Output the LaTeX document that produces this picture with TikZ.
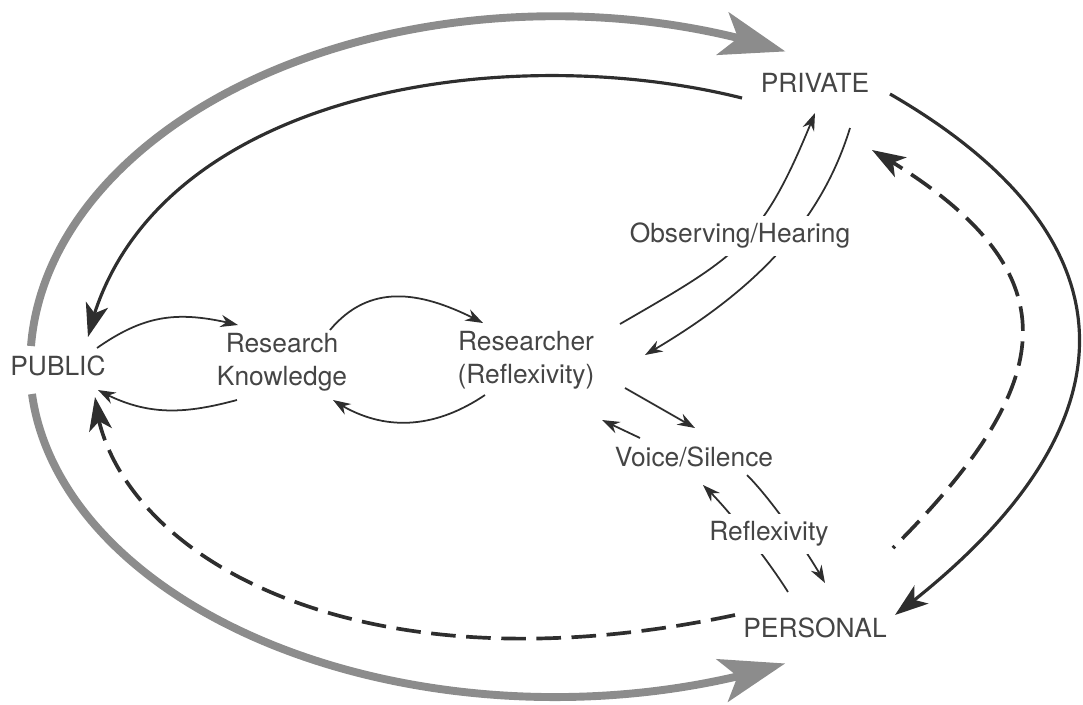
\documentclass[tikz,border=0pt]{standalone}
\usepackage{fontspec}
\setmainfont{TeX Gyre Heros}
\usetikzlibrary{arrows.meta, bending, calc}

\definecolor{ink}{HTML}{2E2E2E}
\definecolor{wordgrey}{HTML}{454545}
\definecolor{bandgrey}{HTML}{8C8C8C}

\tikzstyle{place} = [font=\fontsize{15pt}{19pt}\selectfont, text=wordgrey, inner sep=0pt]
\tikzstyle{topic} = [place, align=center]
\tikzstyle{gloss} = [place, fill=white, inner sep=4pt]
\tikzstyle{bigarrow} = [line width=4.5pt, draw=bandgrey, -{Stealth[length=37pt, width=25pt, inset=9pt]}]
\tikzstyle{arrow} = [line width=1.8pt, draw=ink, -{Stealth[length=19pt, width=13pt, inset=5pt]}]
\tikzstyle{dasharrow} = [arrow, line width=2.1pt, dash pattern=on 14pt off 6pt]
\tikzstyle{thinarrow} = [line width=1pt, draw=ink, -{Stealth[length=10pt, width=7pt]}]

\begin{document}
\begin{tikzpicture}[x=0.02cm, y=0.02cm]
    \useasboundingbox (0,0) rectangle (1083,-704);

    \node (private) [place] at (815,-83) {PRIVATE};
    \node (public) [place] at (58,-366) {PUBLIC};
    \node (know) [topic] at (282,-362) {Research\\Knowledge};
    \node (res) [topic] at (526,-360) {Researcher\\(Reflexivity)};
    \node (voice) [place] at (694,-457) {Voice/Silence};
    \node (personal) [place] at (815,-628) {PERSONAL};

    % outer loop
    \draw [bigarrow] ($(public)+(-27,20)$) arc[start angle=177, end angle=64, x radius=525, y radius=348];
    \draw [bigarrow] ($(public)+(-26,-28)$) arc[start angle=185, end angle=296, x radius=525, y radius=332];
    \draw [arrow] ($(private)+(-73,-15)$) .. controls +(166:250) and +(77:250) .. ($(public)+(30,29)$);
    \draw [arrow] ($(private)+(75,-11)$) .. controls +(-30:290) and +(37:310) .. ($(personal)+(80,13)$);
    \draw [dasharrow, dash phase=12.5pt] ($(personal)+(78,80)$) .. controls +(45:238) and +(-30:238) .. ($(private)+(57,-67)$);
    \draw [dasharrow] ($(personal)+(-80,13)$) .. controls +(192:400) and +(-85:150) .. ($(public)+(37,-31)$);

    % inner arrows
    \draw [thinarrow] ($(public)+(39,18)$) .. controls +(35:60) and +(166:60) .. ($(know)+(-44,37)$);
    \draw [thinarrow] ($(know)+(-45,-38)$) .. controls +(195:55) and +(-29:55) .. ($(public)+(40,-24)$);
    \draw [thinarrow] ($(know)+(48,32)$) .. controls +(50:65) and +(152:65) .. ($(res)+(-43,37)$);
    \draw [thinarrow] ($(res)+(-41,-35)$) .. controls +(214:60) and +(-34:60) .. ($(know)+(51,-38)$);
    \draw [thinarrow] ($(res)+(94,36)$) .. controls +(30:140) and +(248:140) .. ($(private)+(0,-30)$);
    \draw [thinarrow] ($(private)+(35,-45)$) .. controls +(253:110) and +(30:110) .. ($(res)+(119,5)$);
    \draw [thinarrow] ($(res)+(99,-28)$) -- ($(voice)+(1,29)$);
    \draw [thinarrow] ($(voice)+(-54,19)$) -- ($(res)+(76,-60)$);
    \draw [thinarrow] ($(voice)+(53,-18)$) .. controls +(-45:35) and +(119:35) .. ($(personal)+(10,45)$);
    \draw [thinarrow] ($(personal)+(-27,36)$) .. controls +(122:35) and +(-43:35) .. ($(voice)+(9,-28)$);

    \node (obs) [gloss] at (740,-236) {Observing/Hearing};
    \node (refl) [gloss] at (769,-534) {Reflexivity};
\end{tikzpicture}
\end{document}
